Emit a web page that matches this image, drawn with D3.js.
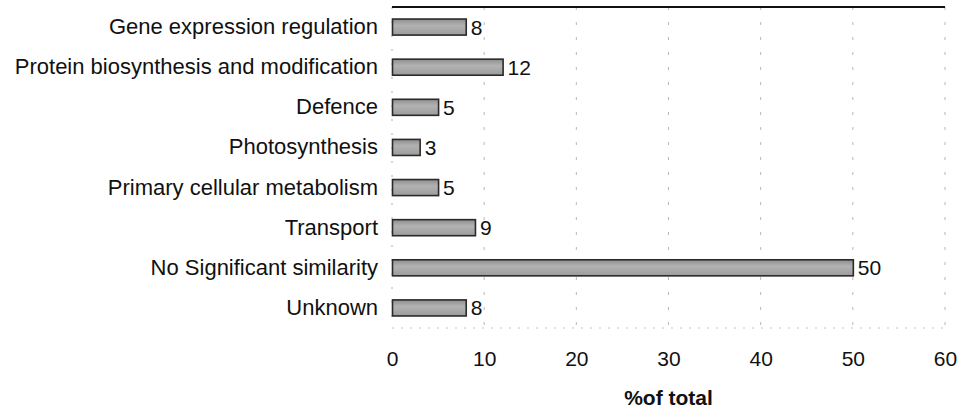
<!DOCTYPE html>
<html>
<head>
<meta charset="utf-8">
<script src="https://cdn.jsdelivr.net/npm/d3@7"></script>
<style>
  html, body { margin: 0; padding: 0; background: #fff; }
  svg { display: block; font-family: "Liberation Sans", Arial, sans-serif; }
</style>
</head>
<body>
<svg id="chart" width="960" height="412"></svg>
<script>
// Functional categories and their share of the total (%)
const categories = [
  "Gene expression regulation",
  "Protein biosynthesis and modification",
  "Defence",
  "Photosynthesis",
  "Primary cellular metabolism",
  "Transport",
  "No Significant similarity",
  "Unknown"
];
const percents = [8, 12, 5, 3, 5, 9, 50, 8];
const xTicks = [0, 10, 20, 30, 40, 50, 60];
const xTitle = "%of total";

const FONT = 21;
const CAT_FONT = 22;
const svg = d3.select("#chart");
const margin = { top: 7, right: 15, bottom: 84, left: 392 };
const width = 960 - margin.left - margin.right;
const height = 412 - margin.top - margin.bottom;

const g = svg.append("g").attr("transform", `translate(${margin.left},${margin.top})`);

const x = d3.scaleLinear().domain([0, 60]).range([0, width]);
const y = d3.scaleBand().domain(categories).range([0, height]).paddingInner(0.6).paddingOuter(0.3);

// Bar gradient
const defs = svg.append("defs");
const grad = defs.append("linearGradient").attr("id", "barFill").attr("x1", 0).attr("y1", 0).attr("x2", 0).attr("y2", 1);
grad.append("stop").attr("offset", "0%").attr("stop-color", "#8e8e8e");
grad.append("stop").attr("offset", "40%").attr("stop-color", "#b2b2b2");
grad.append("stop").attr("offset", "100%").attr("stop-color", "#9c9c9c");

// Vertical dashed gridlines
g.append("g")
  .selectAll("line")
  .data(xTicks.slice(1))
  .join("line")
  .attr("x1", d => x(d)).attr("x2", d => x(d))
  .attr("y1", 0).attr("y2", height)
  .attr("stroke", "#b8b8b8")
  .attr("stroke-width", 1)
  .attr("stroke-dasharray", "3,12");

// Left and bottom edges of the plot area
g.append("line")
  .attr("x1", 0).attr("x2", 0).attr("y1", 0).attr("y2", height)
  .attr("stroke", "#b0b0b0").attr("stroke-dasharray", "2,12");
g.append("line")
  .attr("x1", 0).attr("x2", width).attr("y1", height).attr("y2", height)
  .attr("stroke", "#c4c4c4").attr("stroke-dasharray", "2,7");

// Top border
g.append("line")
  .attr("x1", 0).attr("x2", width).attr("y1", 0).attr("y2", 0)
  .attr("stroke", "#111").attr("stroke-width", 2);

// Bars
g.append("g")
  .selectAll("rect")
  .data(percents)
  .join("rect")
  .attr("x", 0.5)
  .attr("y", (d, i) => y(categories[i]))
  .attr("width", d => x(d))
  .attr("height", y.bandwidth())
  .attr("fill", "url(#barFill)")
  .attr("stroke", "#2a2a2a")
  .attr("stroke-width", 1.6);

// Value labels
g.append("g")
  .selectAll("text")
  .data(percents)
  .join("text")
  .attr("x", d => x(d) + 5)
  .attr("y", (d, i) => y(categories[i]) + y.bandwidth() / 2)
  .attr("dy", "0.36em")
  .attr("font-size", FONT)
  .attr("fill", "#111")
  .text(d => d);

// Category labels
const yAxis = g.append("g").call(d3.axisLeft(y).tickSize(0).tickPadding(14));
yAxis.select(".domain").remove();
yAxis.selectAll("text").attr("font-size", CAT_FONT).attr("fill", "#111").attr("font-family", "Liberation Sans, Arial, sans-serif");

// X axis
const xAxis = g.append("g")
  .attr("transform", `translate(0,${height})`)
  .call(d3.axisBottom(x).tickValues(xTicks).tickSize(0).tickPadding(23));
xAxis.select(".domain").remove();
xAxis.selectAll("text").attr("font-size", FONT).attr("fill", "#111").attr("font-family", "Liberation Sans, Arial, sans-serif");

// Axis title
g.append("text")
  .attr("x", width / 2)
  .attr("y", height + 77)
  .attr("text-anchor", "middle")
  .attr("font-size", FONT)
  .attr("font-weight", "bold")
  .attr("fill", "#111")
  .text(xTitle);
</script>
</body>
</html>
